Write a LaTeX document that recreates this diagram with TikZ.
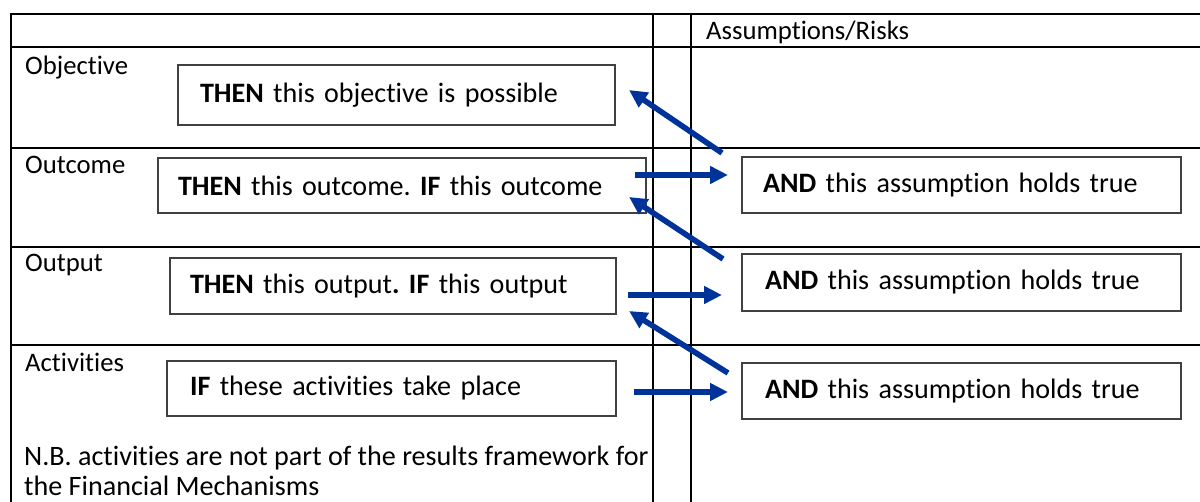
\documentclass[tikz,border=0pt]{standalone}
\usepackage{fontspec}
\setmainfont{Carlito}[Ligatures=NoCommon]
\usetikzlibrary{arrows.meta}
\definecolor{arrblue}{RGB}{0,51,153}
\definecolor{boxgray}{RGB}{64,64,64}
\tikzset{
  tbl/.style={line width=1.8pt, black},
  lbl/.style={anchor=base west, inner sep=0pt, font=\fontsize{26.7}{30}\selectfont},
  notelbl/.style={anchor=base west, inner sep=0pt, align=left, font=\fontsize{28.1}{30}\selectfont},
  tbox/.style={draw=boxgray, line width=1.2pt, anchor=north west, outer sep=0pt,
    inner ysep=0pt, align=left, font=\fontsize{28.1}{34}\selectfont},
  arr/.style={arrblue, line width=5.6pt, -{Triangle[length=18pt,width=17pt]}}
}
\begin{document}
\frenchspacing
\begin{tikzpicture}[x=1pt,y=-1pt]
\useasboundingbox (0,0) rectangle (1200,502);
% table grid
\draw[tbl] (11,502) -- (11,14) -- (1200,14);
\draw[tbl] (11,47) -- (1200,47);
\draw[tbl] (11,148) -- (1200,148);
\draw[tbl] (11,247) -- (1200,247);
\draw[tbl] (11,345) -- (1200,345);
\draw[tbl] (653,14) -- (653,502);
\draw[tbl] (691,14) -- (691,502);
% labels
\node[lbl] (hdr) at (706,40) {Assumptions/Risks};
\node[lbl] (lobj) at (25,75) {Objective};
\node[lbl] (lout) at (25,174) {Outcome};
\node[lbl] (lput) at (25,272) {Output};
\node[lbl] (lact) at (25,372) {Activities};
\node[notelbl] (note) at (24,495) {N.B. activities are not part of the results framework for\\the Financial Mechanisms};
% boxes
\node[tbox, inner xsep=22pt, text width=393pt, minimum height=60pt] (bobj) at (178,65) {\textbf{THEN} this objective is possible};
\node[tbox, inner xsep=20pt, text width=448pt, minimum height=55pt] (bout) at (158,158) {\textbf{THEN} this outcome. \textbf{IF} this outcome};
\node[tbox, inner xsep=20pt, text width=406pt, minimum height=56pt] (bput) at (170,258) {\textbf{THEN} this output\textbf{. IF} this output};
\node[tbox, inner xsep=23pt, text width=403pt, minimum height=55pt] (bact) at (167,361) {\textbf{IF} these activities take place};
\node[tbox, inner xsep=21pt, text width=397pt, minimum height=56pt] (band1) at (742,157) {\textbf{AND} this assumption holds true};
\node[tbox, inner xsep=23pt, text width=393pt, minimum height=57pt] (band2) at (742,254) {\textbf{AND} this assumption holds true};
\node[tbox, inner xsep=23pt, text width=393pt, minimum height=56pt] (band3) at (742,363) {\textbf{AND} this assumption holds true};
% arrow end points
\coordinate (h1s) at (635,175); \coordinate (h1e) at (728,175);
\coordinate (h2s) at (628,295); \coordinate (h2e) at (722,295);
\coordinate (h3s) at (634,392); \coordinate (h3e) at (728,392);
\coordinate (d1s) at (722,153); \coordinate (d1e) at (629,90);
\coordinate (d2s) at (723,259); \coordinate (d2e) at (629,197);
\coordinate (d3s) at (728,373); \coordinate (d3e) at (629,311);
\draw[arr] (h1s) -- (h1e);
\draw[arr] (h2s) -- (h2e);
\draw[arr] (h3s) -- (h3e);
\draw[arr] (d1s) -- (d1e);
\draw[arr] (d2s) -- (d2e);
\draw[arr] (d3s) -- (d3e);
\end{tikzpicture}
\end{document}
